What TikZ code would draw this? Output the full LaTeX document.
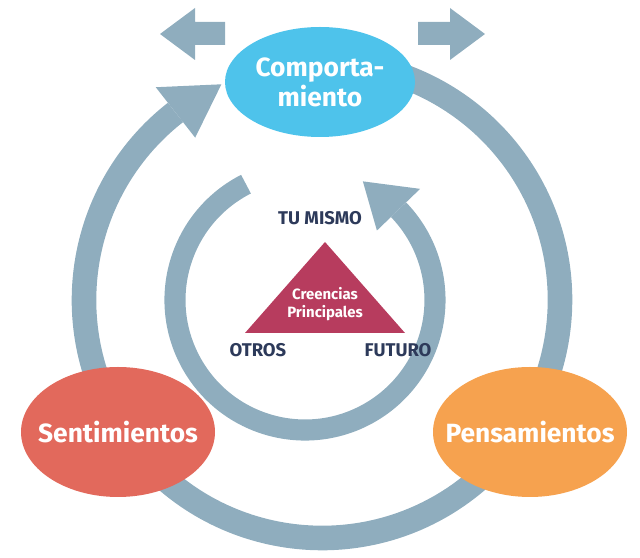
\documentclass[tikz,border=0pt]{standalone}
\usepackage{fontspec}
\setmainfont{Fira Sans}
\usetikzlibrary{shapes.geometric}
\definecolor{ring}{HTML}{8FADBE}
\definecolor{cyanE}{HTML}{4EC3EB}
\definecolor{redE}{HTML}{E2695C}
\definecolor{orE}{HTML}{F6A24F}
\definecolor{tri}{HTML}{B73C5E}
\definecolor{navy}{HTML}{2D3A5A}
\begin{document}
\begin{tikzpicture}[x=0.02cm,y=0.02cm,
  band/.style={draw=ring,line width=14pt},
  txt/.style={text=white,font=\bfseries\fontsize{15}{17}\selectfont,align=center,inner sep=0pt},
  lab/.style={text=navy,font=\bfseries\fontsize{10.5}{12}\selectfont}]
\useasboundingbox (0,0) rectangle (640,558);
% outer ring
\draw[band] (322,258) ++(128:238) arc (128:438:238);
\fill[ring] ([shift={(322,258)}]128:206) -- ([shift={(322,258)}]128:270) -- ([shift={(322,258)}]115:238) -- cycle;
% inner ring
\draw[band,line width=12pt] (305,258) ++(117:130) arc (117:404:130);
\fill[ring] ([shift={(305,258)}]44:100) -- ([shift={(305,258)}]44:160) -- ([shift={(305,258)}]64:132) -- cycle;
% top arrows
\fill[ring] (225,536) -- (195,536) -- (195,550) -- (160,524) -- (195,498) -- (195,513) -- (225,513) -- cycle;
\fill[ring] (418,536) -- (450,536) -- (450,550) -- (485,524) -- (450,498) -- (450,513) -- (418,513) -- cycle;
% ellipses
\fill[cyanE] (320,476) ellipse (95 and 55);
\fill[redE] (118,126) ellipse (97 and 65);
\fill[orE] (530,126) ellipse (97 and 65);
\node[txt] (c) at (320,476) {Comporta-\\miento};
\node[txt] (s) at (118,126) {Sentimientos};
\node[txt] (p) at (530,126) {Pensamientos};
% triangle
\fill[tri] (325,316) -- (245,225) -- (405,225) -- cycle;
\node[text=white,font=\bfseries\fontsize{8.5}{10.5}\selectfont,align=center] (cp) at (325,254) {Creencias\\Principales};
\node[lab] (tu) at (320,340) {TU MISMO};
\node[lab] (ot) at (258,208) {OTROS};
\node[lab] (fu) at (398,208) {FUTURO};
\end{tikzpicture}
\end{document}
